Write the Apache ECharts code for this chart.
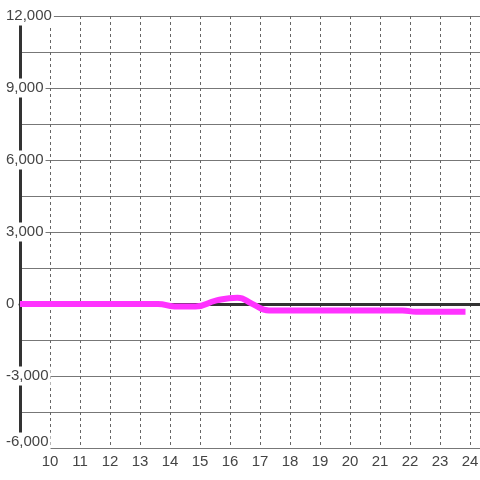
<!DOCTYPE html>
<html>
<head>
<meta charset="utf-8">
<script src="https://cdn.jsdelivr.net/npm/echarts@6/dist/echarts.min.js"></script>
<style>
html,body{margin:0;padding:0;background:#fff;}
#c{width:480px;height:480px;}
</style>
</head>
<body>
<div id="c"></div>
<script>
// Data
var hours  = [9, 13.6, 14.15, 14.85, 15.55, 16.25, 16.75, 17.3, 21.75, 22.2, 23.85];
var values = [0, 0, -100, -100, 150, 260, 0, -270, -270, -320, -320];
var yTickLabels = [-6000, -3000, 0, 3000, 6000, 9000, 12000];

var seriesData = hours.map(function (h, i) { return [h, values[i]]; });

function fmt(v) {
  var s = Math.abs(v).toString().replace(/\B(?=(\d{3})+(?!\d))/g, ',');
  return (v < 0 ? '-' : '') + s;
}

var chart = echarts.init(document.getElementById('c'), null, {renderer: 'canvas'});
var font = 'Liberation Sans';
chart.setOption({
  backgroundColor: '#fff',
  animation: false,
  grid: {left: 20, top: 16, width: 480, height: 432, containLabel: false, outerBoundsMode: 'none'},
  xAxis: [{
    type: 'value', min: 9, max: 25, interval: 1,
    position: 'bottom',
    axisLine: {show: false, onZero: false},
    axisTick: {show: false},
    axisLabel: {
      showMinLabel: false, margin: 6, color: '#444', fontSize: 15, fontFamily: font
    },
    splitLine: {show: true, lineStyle: {color: '#666', width: 1, type: [3, 3]}}
  }, {
    type: 'value', min: 9, max: 25, interval: 1,
    axisLine: {show: true, onZero: true, lineStyle: {color: '#333', width: 3}},
    axisTick: {show: false},
    axisLabel: {show: false},
    splitLine: {show: false}
  }],
  yAxis: {
    type: 'value', min: -6000, max: 12000, interval: 1500,
    axisLine: {show: true, onZero: false, lineStyle: {color: '#333', width: 3}},
    axisTick: {show: false},
    axisLabel: {
      align: 'left', margin: 14, color: '#444', fontSize: 15, fontFamily: font,
      formatter: function (v) {
        if (yTickLabels.indexOf(v) < 0) return '';
        if (v === -6000) return '{b|' + fmt(v) + '}';
        return '{a|' + fmt(v) + '}';
      },
      rich: {
        a: {backgroundColor: '#fff', padding: [2, 2, 2, 0], color: '#444', fontSize: 15, fontFamily: font},
        b: {backgroundColor: '#fff', padding: [2, 2, 14, 0], color: '#444', fontSize: 15, fontFamily: font}
      }
    },
    splitLine: {show: true, lineStyle: {color: '#777', width: 1}}
  },
  series: [{
    type: 'line',
    xAxisIndex: 0,
    data: seriesData,
    smooth: 0.5,
    showSymbol: false,
    clip: false,
    lineStyle: {color: '#ff33ff', width: 6}
  }]
});
</script>
</body>
</html>
